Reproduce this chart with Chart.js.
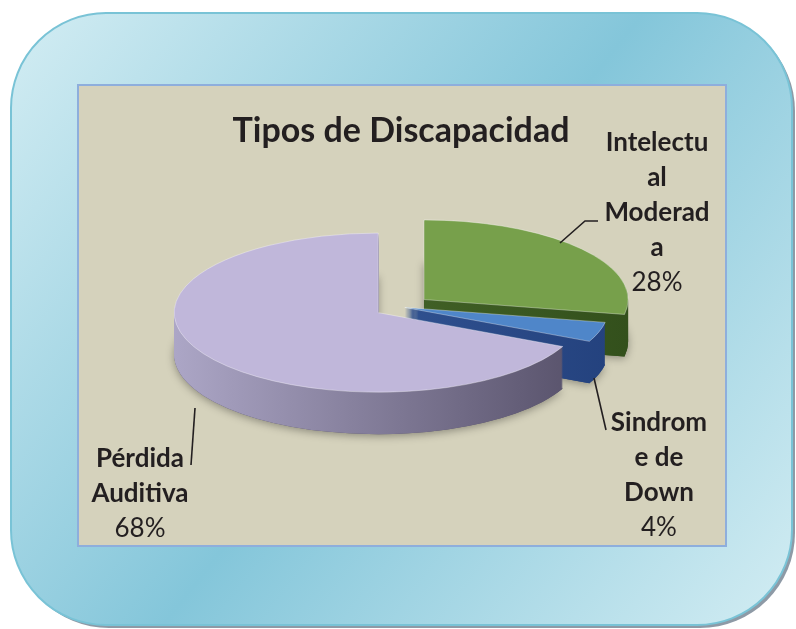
<!DOCTYPE html>
<html>
<head>
<meta charset="utf-8">
<script src="https://cdn.jsdelivr.net/npm/chart.js@4/dist/chart.umd.min.js"></script>
<style>
    html, body { margin: 0; padding: 0; background: #fff; }
    #wrap { width: 796px; height: 629px; }
</style>
</head>
<body>
<div id="wrap"><canvas id="chart" width="796" height="629"></canvas></div>
<script>
// ------------------------
// DATA
// ------------------------

const chartTitle = "Tipos de Discapacidad";
const categories = ["Intelectual Moderada", "Sindrome de Down", "Pérdida Auditiva"];
const values = [28, 4, 68];
// label text as wrapped in the original
const labelLines = [
    ["Intelectu", "al", "Moderad", "a"],
    ["Sindrom", "e de", "Down"],
    ["Pérdida", "Auditiva"]
];

// ------------------------
// STYLE / LAYOUT
// ------------------------

const topColors = ["#77a04b", "#4f86c9", "#c0b7da"];
const sideColors = [["#4d6e2e", "#33501c"], ["#3a5fa0", "#24427e"], ["#aca6c6", "#57516a"]];
const explode = [30, 4, 27];
const squash = 0.39;
const depth = 42;

const labelPos = [
    { x: 657, y: 143, leader: [[560, 243], [585, 221], [598, 221]] },
    { x: 659, y: 423, leader: [[594, 378], [606, 430]] },
    { x: 140, y: 459, leader: [[195, 408], [191, 465]] }
];

const FONT = "Lato, 'Open Sans', sans-serif";

function roundRect(ctx, x, y, w, h, r) {
    ctx.beginPath();
    ctx.moveTo(x + r, y);
    ctx.arcTo(x + w, y, x + w, y + h, r);
    ctx.arcTo(x + w, y + h, x, y + h, r);
    ctx.arcTo(x, y + h, x, y, r);
    ctx.arcTo(x, y, x + w, y, r);
    ctx.closePath();
}

// background frame and panel
const framePlugin = {
    id: "frame",
    beforeDraw(chart) {
        const ctx = chart.ctx;
        ctx.save();
        // shadow
        roundRect(ctx, 14, 16, 781, 612, 95);
        ctx.fillStyle = "#8e9aa6";
        ctx.fill();
        // outer box
        const g = ctx.createLinearGradient(11, 13, 794, 627);
        g.addColorStop(0, "#d3edf3");
        g.addColorStop(0.5, "#84c6da");
        g.addColorStop(1, "#d3edf3");
        roundRect(ctx, 11, 13, 781, 612, 95);
        ctx.fillStyle = g;
        ctx.fill();
        ctx.lineWidth = 2;
        ctx.strokeStyle = "#79c3d6";
        ctx.stroke();
        // inner panel
        ctx.fillStyle = "#d5d2bc";
        ctx.fillRect(78, 85, 648, 461);
        ctx.lineWidth = 2;
        ctx.strokeStyle = "#8eaedc";
        ctx.strokeRect(78, 85, 648, 461);
        ctx.restore();
    }
};

// 3D exploded pie drawn from the arc elements
const pie3dPlugin = {
    id: "pie3d",
    beforeDatasetsDraw(chart) {
        const ctx = chart.ctx;
        const meta = chart.getDatasetMeta(0);
        const cy0 = meta.data[0].y;

        const shapes = meta.data.map((arc, i) => {
            const p = arc.getProps(["x", "y", "startAngle", "endAngle", "outerRadius"], true);
            const mid = (p.startAngle + p.endAngle) / 2;
            const off = arc.options.offset || 0;
            return {
                i,
                cx: p.x + Math.cos(mid) * off,
                cy: p.y + Math.sin(mid) * off,
                r: p.outerRadius,
                a0: p.startAngle,
                a1: p.endAngle
            };
        });

        function slicePath(s, dy) {
            ctx.save();
            ctx.translate(0, cy0 + dy);
            ctx.scale(1, squash);
            ctx.translate(0, -cy0);
            ctx.beginPath();
            ctx.moveTo(s.cx, s.cy);
            ctx.arc(s.cx, s.cy, s.r, s.a0, s.a1);
            ctx.closePath();
            ctx.restore();
        }

        ctx.save();

        // soft shadow under the pie
        ctx.shadowColor = "rgba(0,0,0,0.35)";
        ctx.shadowBlur = 8;
        ctx.shadowOffsetY = 2;
        shapes.forEach(s => {
            slicePath(s, depth);
            ctx.fillStyle = sideColors[s.i][1];
            ctx.fill();
        });
        ctx.shadowColor = "transparent";

        // sides
        for (let d = depth; d > 0; d--) {
            shapes.forEach(s => {
                const g = ctx.createLinearGradient(s.cx - s.r, 0, s.cx + s.r, 0);
                g.addColorStop(0, sideColors[s.i][0]);
                g.addColorStop(1, sideColors[s.i][1]);
                slicePath(s, d);
                ctx.fillStyle = g;
                ctx.fill();
            });
        }

        // tops
        shapes.forEach(s => {
            slicePath(s, 0);
            ctx.fillStyle = topColors[s.i];
            ctx.fill();
            ctx.lineWidth = 1;
            ctx.strokeStyle = "rgba(255,255,255,0.35)";
            ctx.stroke();
        });

        ctx.restore();
        return false;
    }
};

// title, labels, leader lines
const textPlugin = {
    id: "texts",
    afterDraw(chart) {
        const ctx = chart.ctx;
        ctx.save();
        ctx.fillStyle = "#231f20";
        ctx.textAlign = "center";
        ctx.textBaseline = "middle";

        ctx.font = "bold 34px " + FONT;
        ctx.fillText(chartTitle, 401, 131);

        const lineH = 35;
        labelLines.forEach((lines, i) => {
            const pos = labelPos[i];
            ctx.font = "bold 26px " + FONT;
            lines.forEach((t, k) => ctx.fillText(t, pos.x, pos.y + k * lineH));
            ctx.font = "26px " + FONT;
            ctx.fillText(values[i] + "%", pos.x, pos.y + lines.length * lineH);

            ctx.beginPath();
            pos.leader.forEach((pt, k) => k ? ctx.lineTo(pt[0], pt[1]) : ctx.moveTo(pt[0], pt[1]));
            ctx.lineWidth = 1.6;
            ctx.strokeStyle = "#231f20";
            ctx.stroke();
        });
        ctx.restore();
    }
};

new Chart(document.getElementById("chart"), {
    type: "pie",
    data: {
        labels: categories,
        datasets: [{
            data: values,
            backgroundColor: topColors,
            offset: explode,
            borderWidth: 0
        }]
    },
    options: {
        responsive: false,
        animation: false,
        events: [],
        radius: 204,
        layout: { padding: { left: 151, right: 145, top: 57, bottom: 72 } },
        plugins: {
            legend: { display: false },
            title: { display: false },
            tooltip: { enabled: false }
        }
    },
    plugins: [framePlugin, pie3dPlugin, textPlugin]
});
</script>
</body>
</html>
